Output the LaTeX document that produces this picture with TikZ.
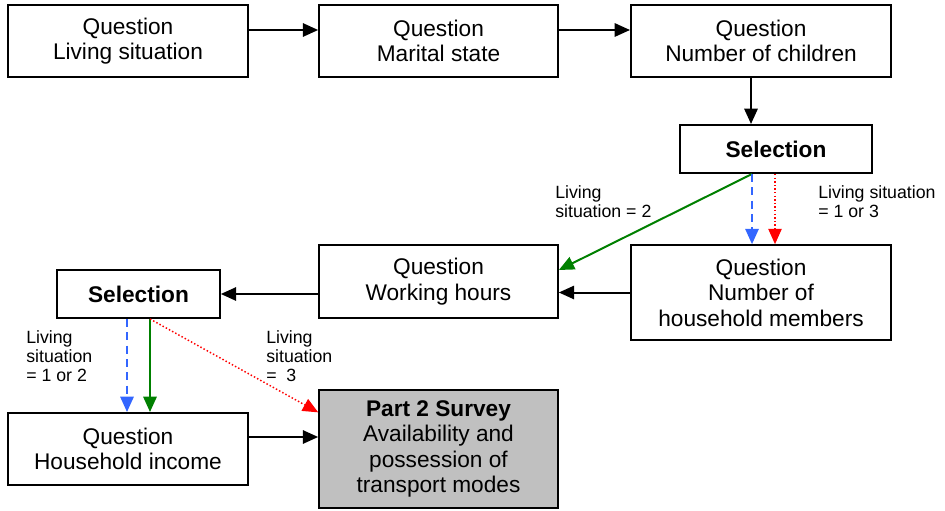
\documentclass[tikz,border=0pt]{standalone}
\usepackage{fontspec}
\setmainfont{Liberation Sans}
\usetikzlibrary{arrows.meta,calc}
\definecolor{selblue}{RGB}{51,102,255}
\definecolor{selgreen}{RGB}{0,128,0}
\definecolor{selred}{RGB}{255,0,0}
\begin{document}
\begin{tikzpicture}[x=0.75pt,y=-0.75pt,
  box/.style={draw,line width=1.5pt,align=center,inner sep=0pt,font=\fontsize{17}{19.2}\selectfont},
  lbl/.style={anchor=west,align=left,inner sep=0pt,font=\fontsize{13.3}{14.3}\selectfont},
  >={Triangle[length=11.5pt,width=10pt]},
  flow/.style={->,line width=1.5pt},
  alt/.style={flow,selblue,dash pattern=on 6pt off 4pt},
  other/.style={flow,selred,line width=1.1pt,dash pattern=on 1.1pt off 1.6pt}]
\useasboundingbox (0,0) rectangle (945,510);
\node[box,minimum width=180pt,minimum height=54pt] (living) at (128,41) {Question\\Living situation};
\node[box,minimum width=179pt,minimum height=54pt] (marital) at (438.5,41) {Question\\Marital state};
\node[box,minimum width=195pt,minimum height=54pt] (children) at (761,41) {Question\\Number of children};
\node[box,minimum width=144pt,minimum height=36pt] (selTop) at (776,149) {\textbf{Selection}};
\node[box,minimum width=179pt,minimum height=55pt] (hours) at (438.5,281.5) {Question\\Working hours};
\node[box,minimum width=195pt,minimum height=71pt] (members) at (761,292.5) {Question\\Number of\\household members};
\node[box,minimum width=122pt,minimum height=36pt] (selLeft) at (138.5,294) {\textbf{Selection}};
\node[box,minimum width=180pt,minimum height=54pt] (income) at (128,449) {Question\\Household income};
\node[box,fill={rgb,255:red,192;green,192;blue,192},minimum width=179pt,minimum height=88pt] (part2) at (438.5,449) {\textbf{Part 2 Survey}\\Availability and\\possession of\\transport modes};
% condition labels
\node[lbl] (lblTwo) at (555,202) {Living\\situation = 2};
\node[lbl] (lblOneThree) at (818,202) {Living situation\\= 1 or 3};
\node[lbl] (lblOneTwo) at (26,356) {Living\\situation\\= 1 or 2};
\node[lbl] (lblThree) at (266,356) {Living\\situation\\=\ \ 3};
% branch points
\coordinate (livingOut) at ($(living.east)+(0,-11)$);
\coordinate (maritalOut) at ($(marital.east)+(0,-11)$);
\coordinate (childrenOut) at ($(children.south)+(-10,0)$);
\coordinate (topA) at ($(selTop.south)+(-24,0)$);
\coordinate (topB) at ($(selTop.south)+(-1,0)$);
\coordinate (leftA) at ($(selLeft.south)+(-11.5,0)$);
\coordinate (leftB) at ($(selLeft.south)+(11.5,0)$);
\coordinate (hoursIn) at ($(hours.east)+(0,-11.5)$);
\coordinate (part2In) at ($(part2.north west)+(0,23)$);
\coordinate (incomeOut) at ($(income.east)+(0,-12)$);
% connectors
\draw[flow] (livingOut) -- (livingOut -| marital.west);
\draw[flow] (maritalOut) -- (maritalOut -| children.west);
\draw[flow] (childrenOut) -- (childrenOut |- selTop.north);
\draw[flow,selgreen] (topA) -- (hoursIn);
\draw[alt] (topA) -- (topA |- members.north);
\draw[other] (topB) -- (topB |- members.north);
\draw[flow] (members.west) -- (members.west -| hours.east);
\draw[flow] (hours.west |- selLeft.east) -- (selLeft.east);
\draw[alt] (leftA) -- (leftA |- income.north);
\draw[flow,selgreen] (leftB) -- (leftB |- income.north);
\draw[other] (leftB) -- (part2In);
\draw[flow] (incomeOut) -- (incomeOut -| part2.west);
\end{tikzpicture}
\end{document}
